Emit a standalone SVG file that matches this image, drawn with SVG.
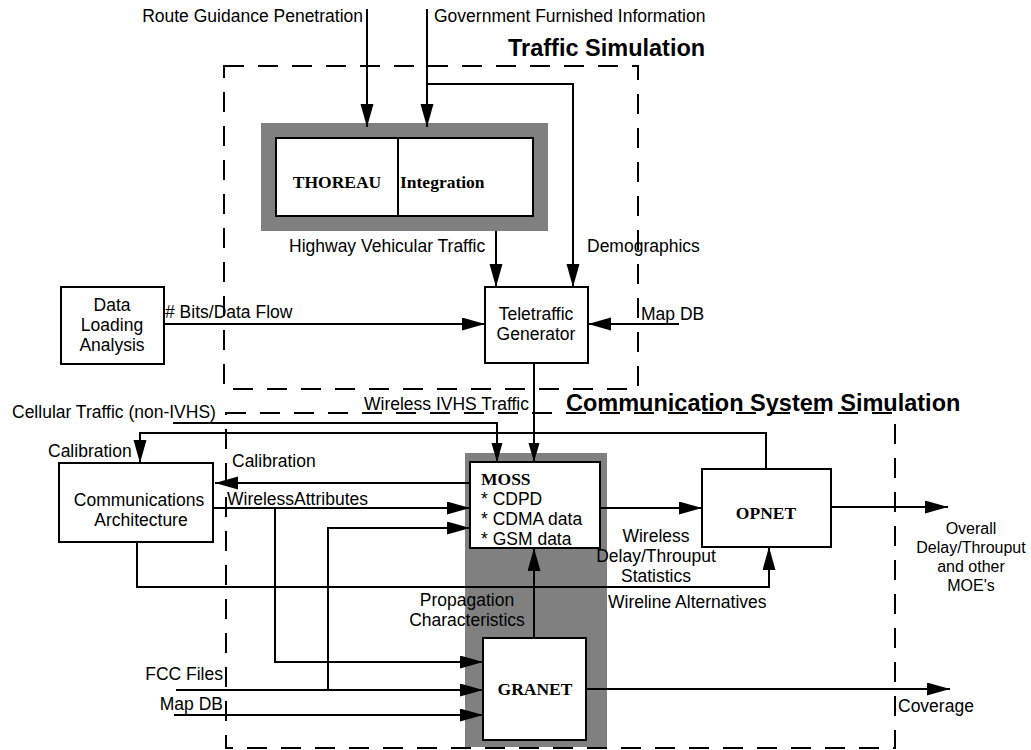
<svg xmlns="http://www.w3.org/2000/svg" width="1031" height="750" viewBox="0 0 1031 750">
<style>
.ln{stroke:#000;stroke-width:2;fill:none}
.dash{stroke:#000;stroke-width:2;fill:none;stroke-dasharray:20 14}
.box{fill:#fff;stroke:#000;stroke-width:2}
.gray{fill:#808080}
.t{font-family:"Liberation Sans",Arial,sans-serif;font-size:17.5px;fill:#000}
.s{font-size:16px}
.m{text-anchor:middle}
.e{text-anchor:end}
.b{font-family:"Liberation Serif","Times New Roman",serif;font-weight:bold;font-size:17.5px;fill:#000}
.title{font-family:"Liberation Sans",Arial,sans-serif;font-weight:bold;font-size:23.5px;fill:#000}
</style>
<defs>
<marker id="ah" markerUnits="userSpaceOnUse" markerWidth="24" markerHeight="14" refX="23" refY="6.5" orient="auto">
<path d="M0,0 L23,6.5 L0,13 Z" fill="#000"/>
</marker>
<marker id="as" markerUnits="userSpaceOnUse" markerWidth="20" markerHeight="12" refX="19" refY="5.5" orient="auto">
<path d="M0,0 L19,5.5 L0,11 Z" fill="#000"/>
</marker>
</defs>
<rect width="1031" height="750" fill="#fff"/>

<g id="traffic-simulation">
<rect class="dash" x="224" y="66" width="414" height="323"/>
<text class="title" x="508" y="56">Traffic Simulation</text>
</g>
<g id="communication-system-simulation">
<rect class="dash" x="226" y="413" width="669" height="335"/>
<text class="title" x="566" y="411">Communication System Simulation</text>
</g>

<g id="thoreau-integration">
<rect class="gray" x="261" y="123" width="287" height="108"/>
<rect class="box" x="276" y="138" width="257" height="78"/>
<line class="ln" x1="398" y1="138" x2="398" y2="216"/>
<text class="b m" x="337" y="188">THOREAU</text>
<text class="b" x="400" y="188">Integration</text>
</g>

<g id="moss">
<rect class="gray" x="465" y="453" width="142" height="294"/>
<rect class="box" x="470" y="462" width="130" height="86"/>
<text class="b" x="481" y="485">MOSS</text>
<text class="t" x="481" y="505">* CDPD</text>
<text class="t" x="481" y="525">* CDMA data</text>
<text class="t" x="481" y="545">* GSM data</text>
</g>

<g id="granet">
<rect class="box" x="483" y="638" width="103" height="102"/>
<text class="b m" x="535" y="695">GRANET</text>
</g>

<g id="teletraffic-generator">
<rect class="box" x="485" y="287" width="103" height="76"/>
<text class="t m" x="536" y="320">Teletraffic</text>
<text class="t m" x="536" y="340">Generator</text>
</g>

<g id="data-loading-analysis">
<rect class="box" x="61" y="287" width="103" height="77"/>
<text class="t m" x="112" y="311">Data</text>
<text class="t m" x="112" y="331">Loading</text>
<text class="t m" x="112" y="351">Analysis</text>
</g>

<g id="communications-architecture">
<rect class="box" x="59" y="463" width="154" height="79"/>
<text class="t m" x="139" y="506">Communications</text>
<text class="t m" x="141" y="526">Architecture</text>
</g>

<g id="opnet">
<rect class="box" x="702" y="469" width="129" height="78"/>
<text class="b m" x="766" y="519">OPNET</text>
</g>

<g id="connectors">
<path class="ln" d="M367,9 V127" marker-end="url(#ah)"/>
<path class="ln" d="M427,9 V127" marker-end="url(#ah)"/>
<path class="ln" d="M427,84 H573 V287" marker-end="url(#ah)"/>
<path class="ln" d="M496,231 V287" marker-end="url(#ah)"/>
<path class="ln" d="M164,324 H485" marker-end="url(#ah)"/>
<path class="ln" d="M679,324 H588" marker-end="url(#ah)"/>
<path class="ln" d="M534,363 V462" marker-end="url(#as)"/>
<path class="ln" d="M173,423 H497 V462" marker-end="url(#as)"/>
<path class="ln" d="M766,469 V433 H140 V463" marker-end="url(#ah)"/>
<path class="ln" d="M470,483 H215" marker-end="url(#ah)"/>
<path class="ln" d="M213,508 H470" marker-end="url(#ah)"/>
<path class="ln" d="M275,508 V662 H483" marker-end="url(#ah)"/>
<path class="ln" d="M328,690 V528 H470" marker-end="url(#ah)"/>
<path class="ln" d="M176,690 H483" marker-end="url(#ah)"/>
<path class="ln" d="M174,715 H483" marker-end="url(#ah)"/>
<path class="ln" d="M600,508 H702" marker-end="url(#ah)"/>
<path class="ln" d="M831,507 H948" marker-end="url(#ah)"/>
<path class="ln" d="M137,542 V587 H769 V547" marker-end="url(#ah)"/>
<path class="ln" d="M534,638 V548" marker-end="url(#ah)"/>
<path class="ln" d="M586,689 H950" marker-end="url(#ah)"/>
</g>

<g id="labels">
<text class="t e" x="363" y="22">Route Guidance Penetration</text>
<text class="t" x="434" y="22">Government Furnished Information</text>
<text class="t" x="289" y="252">Highway Vehicular Traffic</text>
<text class="t" x="587" y="252">Demographics</text>
<text class="t" x="165" y="318">#&#160;Bits/Data Flow</text>
<text class="t" x="641" y="320">Map DB</text>
<text class="t e" x="529" y="410">Wireless IVHS Traffic</text>
<text class="t" x="12" y="418">Cellular Traffic (non-IVHS)</text>
<text class="t" x="48" y="457">Calibration</text>
<text class="t" x="232" y="467">Calibration</text>
<text class="t" x="227" y="505">WirelessAttributes</text>
<text class="t m" x="656" y="542">Wireless</text>
<text class="t m" x="656" y="562">Delay/Throuput</text>
<text class="t m" x="656" y="582">Statistics</text>
<text class="t s m" x="971" y="534">Overall</text>
<text class="t s m" x="971" y="553">Delay/Throuput</text>
<text class="t s m" x="971" y="572">and other</text>
<text class="t s m" x="971" y="591">MOE's</text>
<text class="t m" x="467" y="606">Propagation</text>
<text class="t m" x="467" y="626">Characteristics</text>
<text class="t" x="608" y="608">Wireline Alternatives</text>
<text class="t e" x="223" y="680">FCC Files</text>
<text class="t e" x="223" y="710">Map DB</text>
<text class="t" x="898" y="712">Coverage</text>
</g>
</svg>
